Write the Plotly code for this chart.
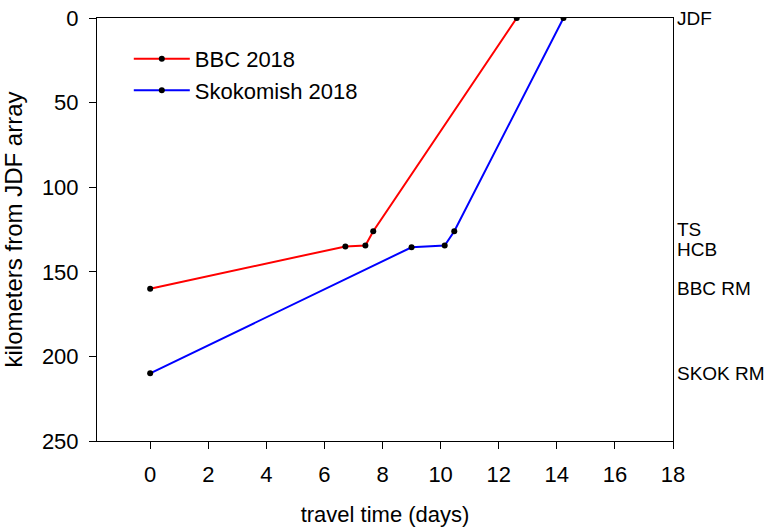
import plotly.graph_objects as go

# Data
bbc_days = [0, 6.72, 7.41, 7.68, 12.62]
bbc_km = [160, 135, 134.5, 126, 0]
skok_days = [0, 9.0, 10.14, 10.47, 14.23]
skok_km = [210, 135.5, 134.5, 126, 0]

station_names = ["JDF", "TS", "HCB", "BBC RM", "SKOK RM"]
station_km = [0, 125, 137, 160, 210]

x_ticks = [0, 2, 4, 6, 8, 10, 12, 14, 16, 18]
y_ticks = [0, 50, 100, 150, 200, 250]

FONT = "Liberation Sans, Arial, sans-serif"
TICK_FS = 22
LABEL_FS = 19
LEGEND_FS = 22
XTITLE_FS = 22
YTITLE_FS = 24

fig = go.Figure()
fig.add_trace(go.Scatter(
    x=bbc_days, y=bbc_km, mode="lines+markers", name="BBC 2018",
    line=dict(color="#ff0000", width=2),
    marker=dict(color="black", size=6),
))
fig.add_trace(go.Scatter(
    x=skok_days, y=skok_km, mode="lines+markers", name="Skokomish 2018",
    line=dict(color="#0000ff", width=2),
    marker=dict(color="black", size=6),
))

for name, km in zip(station_names, station_km):
    fig.add_annotation(
        x=1.0, xref="paper", y=km, yref="y", text=name, showarrow=False,
        xanchor="left", xshift=2, yanchor="middle",
        font=dict(family=FONT, size=LABEL_FS, color="black"),
    )

fig.update_layout(
    width=772, height=527, autosize=False,
    margin=dict(l=97, r=99, t=18, b=86, autoexpand=False),
    paper_bgcolor="white", plot_bgcolor="white",
    font=dict(family=FONT, size=TICK_FS, color="black"),
    showlegend=True,
    legend=dict(
        x=0.0552, y=0.953, xanchor="left", yanchor="top",
        bgcolor="rgba(0,0,0,0)", borderwidth=0,
        font=dict(family=FONT, size=LEGEND_FS, color="black"),
        itemwidth=56, tracegroupgap=0,
    ),
)
fig.update_xaxes(
    range=[-1.83, 18], tickvals=x_ticks, ticks="outside", ticklen=7,
    tickcolor="black", showline=True, linecolor="black", linewidth=1,
    mirror=True, showgrid=False, zeroline=False, automargin=False,
    ticklabelstandoff=7, ticklabeloverflow="allow",
    title=dict(text="travel time (days)", standoff=20,
               font=dict(family=FONT, size=XTITLE_FS, color="black")),
    tickfont=dict(family=FONT, size=TICK_FS, color="black"),
)
fig.update_yaxes(
    range=[250, 0], tickvals=y_ticks, ticks="outside", ticklen=7,
    tickcolor="black", showline=True, linecolor="black", linewidth=1,
    mirror=True, showgrid=False, zeroline=False, automargin=False,
    ticklabelstandoff=6, ticklabeloverflow="allow",
    title=dict(text="kilometers from JDF array", standoff=16,
               font=dict(family=FONT, size=YTITLE_FS, color="black")),
    tickfont=dict(family=FONT, size=TICK_FS, color="black"),
)

fig.write_html(
    "out.html",
    config={"displayModeBar": False},
    post_script="document.body.style.margin='0px';document.body.style.padding='0px';",
)
